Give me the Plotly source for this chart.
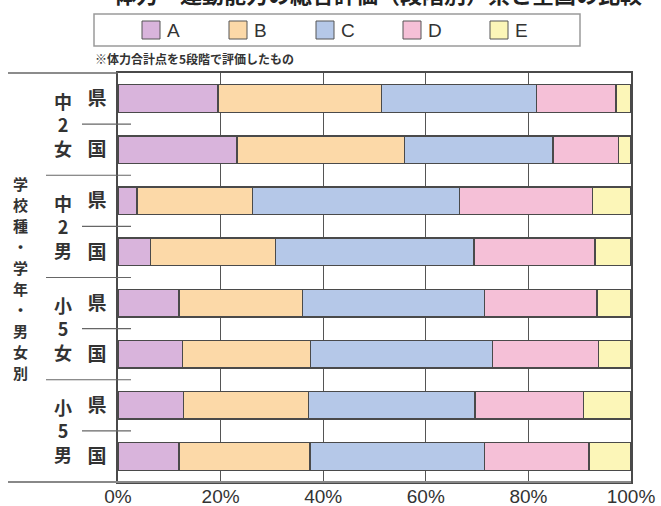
import plotly.graph_objects as go

# 評価段階ごとの割合（%）
groups = ["中2女", "中2男", "小5女", "小5男"]
regions = ["県", "国"]
categories = [f"{g} {r}" for g in groups for r in regions]

grade_names = ["A", "B", "C", "D", "E"]
grade_A = [19.5, 23.2, 3.7, 6.4, 11.9, 12.6, 12.8, 11.9]
grade_B = [31.8, 32.6, 22.5, 24.3, 24.0, 24.9, 24.4, 25.5]
grade_C = [30.3, 29.0, 40.4, 38.7, 35.6, 35.5, 32.4, 34.1]
grade_D = [15.5, 12.7, 25.9, 23.6, 21.9, 20.6, 21.1, 20.3]
grade_E = [2.9, 2.5, 7.5, 7.0, 6.6, 6.4, 9.3, 8.2]
grade_values = [grade_A, grade_B, grade_C, grade_D, grade_E]
grade_colors = ["#d9b4dc", "#fcd9a8", "#b5c8e8", "#f5c0d7", "#fcf6b8"]

x_ticks = [0, 20, 40, 60, 80, 100]
x_tick_text = ["0%", "20%", "40%", "60%", "80%", "100%"]

title_text = "体力・運動能力の総合評価（段階別）県と全国の比較"
note_text = "※体力合計点を5段階で評価したもの"
side_title = "学校種・学年・男女別"

W, H = 661, 506
L, R, T, B = 118, 631, 73, 482  # plot box in pixels
JP = "Noto Sans CJK JP"
INK = "#333333"
LINE = "#4a4a4a"


def px(x):
    return (x - L) / (R - L)


def py(y):
    return (B - y) / (B - T)


fig = go.Figure()
for name, vals, col in zip(grade_names, grade_values, grade_colors):
    fig.add_trace(go.Bar(
        y=categories, x=vals, name=name, orientation="h",
        marker=dict(color=col, line=dict(color=LINE, width=1.3)),
        width=0.54, showlegend=False,
    ))

shapes = []
annotations = []

# 左側の区切り線
for i in range(len(categories) - 1):
    pos = i + 0.5
    if i % 2 == 0:
        x0 = px(82)
    else:
        x0 = px(46)
    shapes.append(dict(type="line", xref="paper", yref="y", x0=x0, x1=px(131),
                       y0=pos, y1=pos, line=dict(color="#666666", width=1.2)))
# 上下の枠線の延長
shapes.append(dict(type="line", xref="paper", yref="paper", x0=px(8), x1=0,
                   y0=1, y1=1, line=dict(color="#666666", width=1.3)))
shapes.append(dict(type="line", xref="paper", yref="paper", x0=px(8), x1=1,
                   y0=0, y1=0, line=dict(color="#888888", width=2)))

# 凡例
shapes.append(dict(type="rect", xref="paper", yref="paper",
                   x0=px(94), x1=px(580), y0=py(14), y1=py(46),
                   line=dict(color="#9a9a9a", width=1.5), fillcolor="white"))
for k, (name, col) in enumerate(zip(grade_names, grade_colors)):
    sx = 142 + k * 87
    shapes.append(dict(type="rect", xref="paper", yref="paper",
                       x0=px(sx), x1=px(sx + 18), y0=py(21), y1=py(39),
                       line=dict(color="#555555", width=1), fillcolor=col))
    annotations.append(dict(text=name, xref="paper", yref="paper",
                            x=px(sx + 23), y=py(30), xanchor="left", yanchor="middle",
                            showarrow=False, font=dict(family="Liberation Sans", size=19, color=INK)))

# 表題・注記
annotations.append(dict(text=f"<b>{title_text}</b>", xref="paper", yref="paper",
                        x=px(378), y=py(-7), xanchor="center", yanchor="middle",
                        showarrow=False, font=dict(family=JP, size=22, color="#222222")))
annotations.append(dict(text=f"<b>{note_text}</b>", xref="paper", yref="paper",
                        x=px(93), y=py(58), xanchor="left", yanchor="middle",
                        showarrow=False, font=dict(family=JP, size=12, color=INK)))

# 学校種・学年・男女別の見出し
for gi, g in enumerate(groups):
    label = "<br>".join(list(g))
    annotations.append(dict(text=label, xref="paper", yref="y",
                            x=px(63), y=gi * 2 + 0.5, xanchor="center", yanchor="middle",
                            showarrow=False,
                            font=dict(family=JP, size=18, color=INK, weight=600)))
# 縦書きの見出しは一文字ずつ配置
for ci, ch in enumerate(side_title):
    annotations.append(dict(text=ch, xref="paper", yref="paper",
                            x=px(20), y=py(183 + ci * 21), xanchor="center", yanchor="middle",
                            showarrow=False, borderpad=0,
                            font=dict(family=JP, size=15, color=INK, weight=600)))

fig.update_layout(
    barmode="stack",
    width=W, height=H,
    margin=dict(l=L, r=W - R, t=T, b=H - B, autoexpand=False),
    paper_bgcolor="white", plot_bgcolor="white",
    shapes=shapes, annotations=annotations,
    bargap=0.46,
    xaxis=dict(range=[0, 100], tickvals=x_ticks, ticktext=x_tick_text,
               showgrid=True, gridcolor="#555555", gridwidth=1,
               showline=True, linecolor=LINE, linewidth=1.5, mirror=True,
               ticks="", zeroline=False, ticklabelstandoff=-4,
               tickfont=dict(family="Liberation Sans", size=19, color=INK)),
    yaxis=dict(categoryorder="array", categoryarray=categories, autorange="reversed",
               tickvals=categories, ticktext=[r for _ in groups for r in regions],
               showgrid=False, showline=True, linecolor=LINE, linewidth=1.5, mirror=True,
               ticks="", ticklabelstandoff=6,
               tickfont=dict(family=JP, size=19, color=INK, weight=600)),
)

fig.write_html("out.html")
